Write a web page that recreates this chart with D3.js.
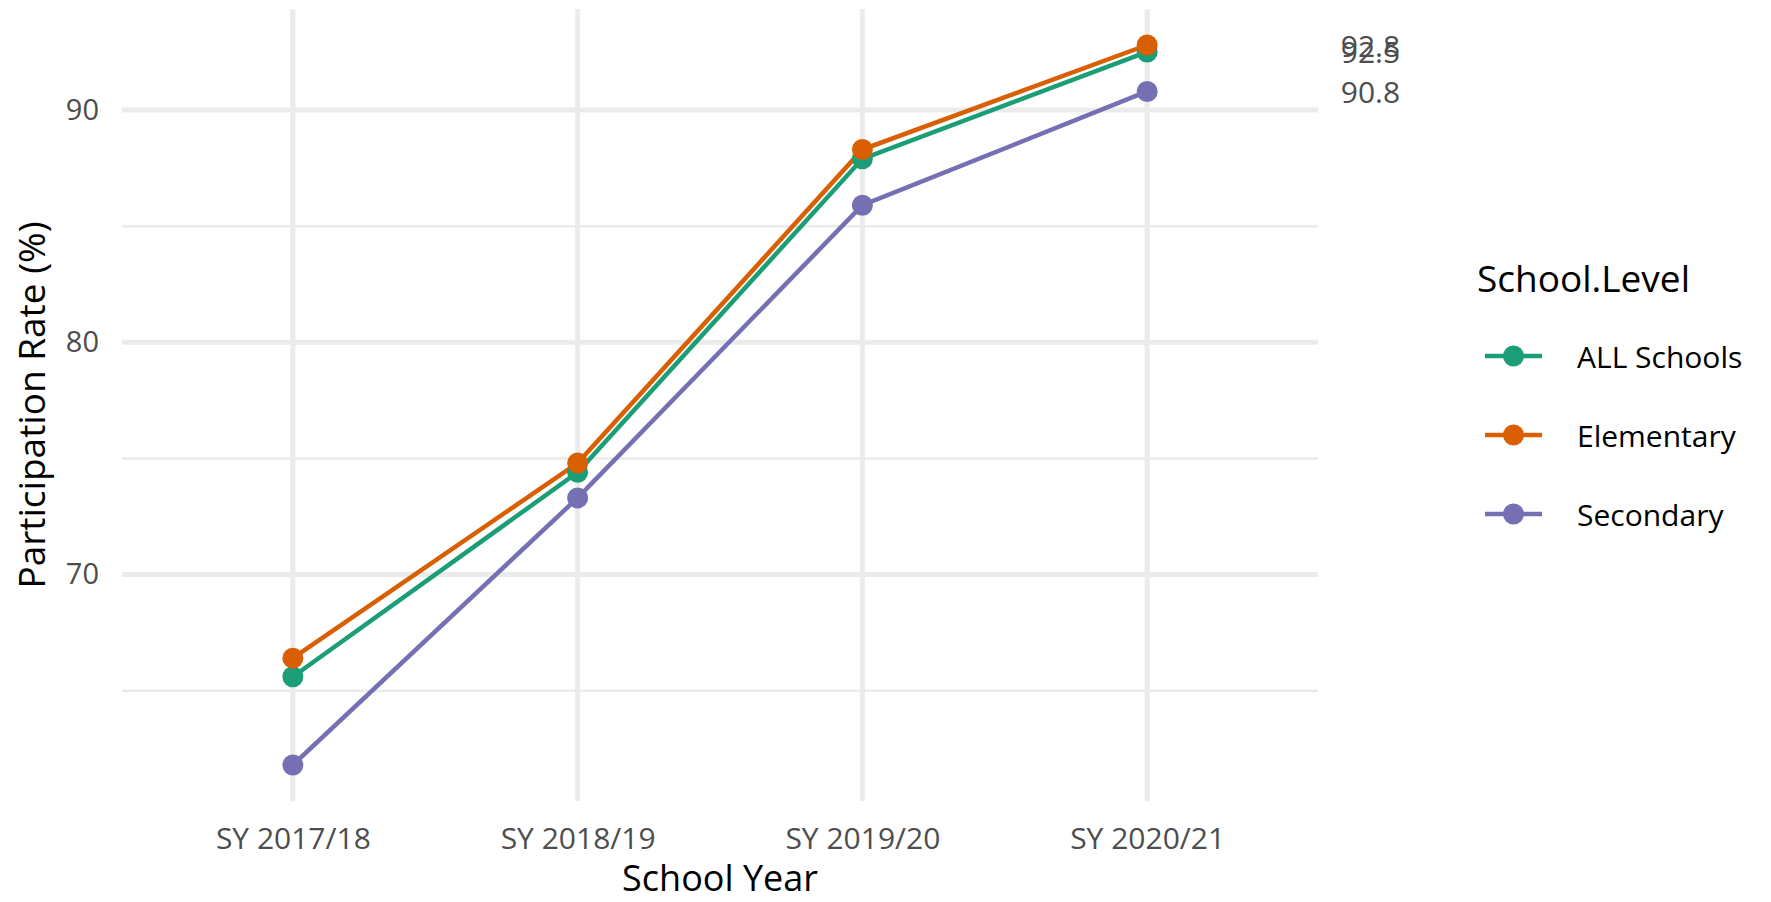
<!DOCTYPE html>
<html>
<head>
<meta charset="utf-8">
<script src="https://cdn.jsdelivr.net/npm/d3@7"></script>
<style>
  body { margin: 0; background: #fff; }
  svg { display: block; font-family: "Open Sans", "Noto Sans", sans-serif; }
</style>
</head>
<body>
<div id="chart"></div>
<script>
// data
const years = ['SY 2017/18', 'SY 2018/19', 'SY 2019/20', 'SY 2020/21'];
const levels = ['ALL Schools', 'Elementary', 'Secondary'];
const allSchools = [65.6, 74.4, 87.9, 92.5];
const elementary = [66.4, 74.8, 88.3, 92.8];
const secondary = [61.8, 73.3, 85.9, 90.8];
const colors = ['#1B9E77', '#D95F02', '#7570B3'];
const yTicks = [70, 80, 90];
const yMinor = [65, 75, 85];

const W = 1771, H = 902;
const panel = {left: 122, right: 1318, top: 9, bottom: 801};

const series = levels.map((name, i) => ({
    name: name,
    color: colors[i],
    values: [allSchools, elementary, secondary][i].map((v, j) => ({year: years[j], value: v}))
}));

// ggplot style 5% expansion on continuous axis
const all = allSchools.concat(elementary, secondary);
const lo = d3.min(all), hi = d3.max(all), pad = (hi - lo) * 0.05;

const x = d3.scalePoint().domain(years).range([panel.left, panel.right]).padding(0.6);
const y = d3.scaleLinear().domain([lo - pad, hi + pad]).range([panel.bottom, panel.top]);

const svg = d3.select('#chart').append('svg')
    .attr('width', W)
    .attr('height', H);

const grid = svg.append('g');
//minor horizontal lines
grid.selectAll('line.minor').data(yMinor).join('line')
    .attr('class', 'minor')
    .attr('x1', panel.left).attr('x2', panel.right)
    .attr('y1', d => y(d)).attr('y2', d => y(d))
    .attr('stroke', '#ebebeb').attr('stroke-width', 2.5);
grid.selectAll('line.hmajor').data(yTicks).join('line')
    .attr('class', 'hmajor')
    .attr('x1', panel.left).attr('x2', panel.right)
    .attr('y1', d => y(d)).attr('y2', d => y(d))
    .attr('stroke', '#ebebeb').attr('stroke-width', 5);
grid.selectAll('line.vmajor').data(years).join('line')
    .attr('class', 'vmajor')
    .attr('x1', d => x(d)).attr('x2', d => x(d))
    .attr('y1', panel.top).attr('y2', panel.bottom)
    .attr('stroke', '#ebebeb').attr('stroke-width', 5);

// axes (no domain line, no ticks, like theme_minimal)
const yAxis = svg.append('g')
    .attr('transform', `translate(${panel.left},0)`)
    .call(d3.axisLeft(y).tickValues(yTicks).tickSize(0).tickPadding(23));
const xAxis = svg.append('g')
    .attr('transform', `translate(0,${panel.bottom})`)
    .call(d3.axisBottom(x).tickSize(0));
[yAxis, xAxis].forEach(a => {
    a.select('.domain').remove();
    a.selectAll('text')
        .attr('fill', '#4d4d4d')
        .style('font-size', '29px')
        .style('font-family', '"Open Sans", sans-serif');
});
xAxis.selectAll('text')
    .attr('dy', null)
    .attr('y', 36)
    .attr('dominant-baseline', 'central')
    .style('font-size', '30px');

svg.append('text')
    .attr('x', (panel.left + panel.right) / 2)
    .attr('y', 877)
    .attr('text-anchor', 'middle')
    .attr('dominant-baseline', 'central')
    .style('font-size', '36px')
    .text('School Year');

svg.append('text')
    .attr('transform', `translate(30,${(panel.top + panel.bottom) / 2}) rotate(-90)`)
    .attr('text-anchor', 'middle')
    .attr('dominant-baseline', 'central')
    .style('font-size', '37px')
    .text('Participation Rate (%)');

// lines and points
const line = d3.line().x(d => x(d.year)).y(d => y(d.value));
const g = svg.append('g');
series.forEach(s => {
    g.append('path')
        .datum(s.values)
        .attr('d', line)
        .attr('fill', 'none')
        .attr('stroke', s.color)
        .attr('stroke-width', 4.5);
});
series.forEach(s => {
    g.selectAll(null).data(s.values).join('circle')
        .attr('cx', d => x(d.year))
        .attr('cy', d => y(d.value))
        .attr('r', 10.5)
        .attr('fill', s.color);
});

// end labels, beyond the panel (92.8 and 92.5 overlap in the original too)
const lastYear = years[years.length - 1];
series.forEach(s => {
    const d = s.values[s.values.length - 1];
    svg.append('text')
        .attr('x', x(lastYear) + x.step() * 0.68)
        .attr('y', y(d.value))
        .attr('dominant-baseline', 'central')
        .attr('fill', '#4d4d4d')
        .style('font-size', '30px')
        .text(d.value.toFixed(1));
});

// legend
const legend = svg.append('g');
legend.append('text')
    .attr('x', 1477).attr('y', 277)
    .attr('dominant-baseline', 'central')
    .style('font-size', '37px')
    .text('School.Level');
series.forEach((s, i) => {
    const ly = 356 + i * 79;
    legend.append('line')
        .attr('x1', 1485).attr('x2', 1542)
        .attr('y1', ly).attr('y2', ly)
        .attr('stroke', s.color).attr('stroke-width', 4.5);
    legend.append('circle')
        .attr('cx', 1513.5).attr('cy', ly).attr('r', 10.5)
        .attr('fill', s.color);
    legend.append('text')
        .attr('x', 1577).attr('y', ly)
        .attr('dominant-baseline', 'central')
        .style('font-size', '30px')
        .text(s.name);
});
</script>
</body>
</html>
